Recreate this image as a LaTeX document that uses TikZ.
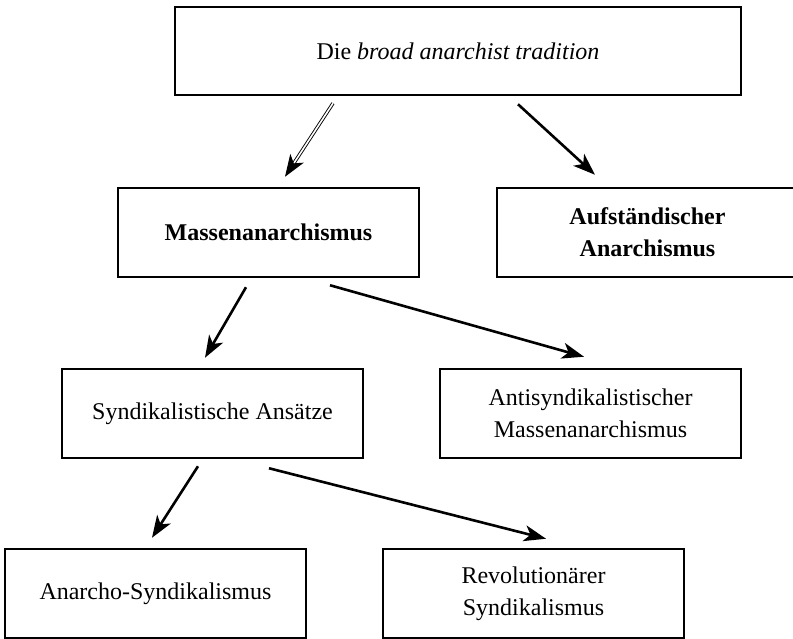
\documentclass[tikz,border=0pt]{standalone}
\usepackage{fontspec}
\setmainfont{Liberation Serif}
\usetikzlibrary{arrows.meta}
\begin{document}
\begin{tikzpicture}[x=1pt,y=-1pt,
  box/.style={draw=black, line width=2.5pt, rectangle, inner sep=0pt,
    minimum width=301pt, minimum height=89pt, align=center,
    font=\fontsize{24}{32}\selectfont},
  bbox/.style={box, font=\fontsize{24}{32}\selectfont\bfseries},
  arr/.style={line width=2.6pt, -{Stealth[length=22pt,width=16pt,inset=6pt]}},
  darr/.style={double, line width=0.9pt, double distance=1.6pt,
    -{Stealth[length=22pt,width=16pt,inset=6pt]}}]
\clip (0,0) rectangle (793,639);
\fill[white] (0,0) rectangle (793,639);
\node[box, minimum width=566pt, minimum height=88pt] (top) at (458,51)
  {Die \textit{broad anarchist tradition}};
\node[bbox] (massen) at (268.5,232.5) {Massenanarchismus};
\node[bbox] (aufst) at (647.5,232.5) {Aufständischer\\Anarchismus};
\node[box] (syndik) at (212.5,413.5) {Syndikalistische Ansätze};
\node[box] (anti) at (590.5,413.5) {Antisyndikalistischer\\Massenanarchismus};
\node[box] (anarcho) at (155.5,593.5) {Anarcho-Syndikalismus};
\node[box] (revol) at (533.5,593.5) {Revolutionärer\\Syndikalismus};
\draw[darr] ([xshift=-125pt,yshift=-7pt]top.south) -- ([xshift=16.5pt,yshift=10pt]massen.north);
\draw[arr] ([xshift=60pt,yshift=-8pt]top.south) -- ([xshift=-52.5pt,yshift=12pt]aufst.north);
\draw[arr] ([xshift=-22.5pt,yshift=-9pt]massen.south) -- ([xshift=-7.5pt,yshift=10pt]syndik.north);
\draw[arr] ([xshift=61.5pt,yshift=-7pt]massen.south) -- ([xshift=-6.5pt,yshift=11pt]anti.north);
\draw[arr] ([xshift=-14.5pt,yshift=-7pt]syndik.south) -- ([xshift=-3.5pt,yshift=10pt]anarcho.north);
\draw[arr] ([xshift=56.5pt,yshift=-9pt]syndik.south) -- ([xshift=12.5pt,yshift=9pt]revol.north);
\end{tikzpicture}
\end{document}
